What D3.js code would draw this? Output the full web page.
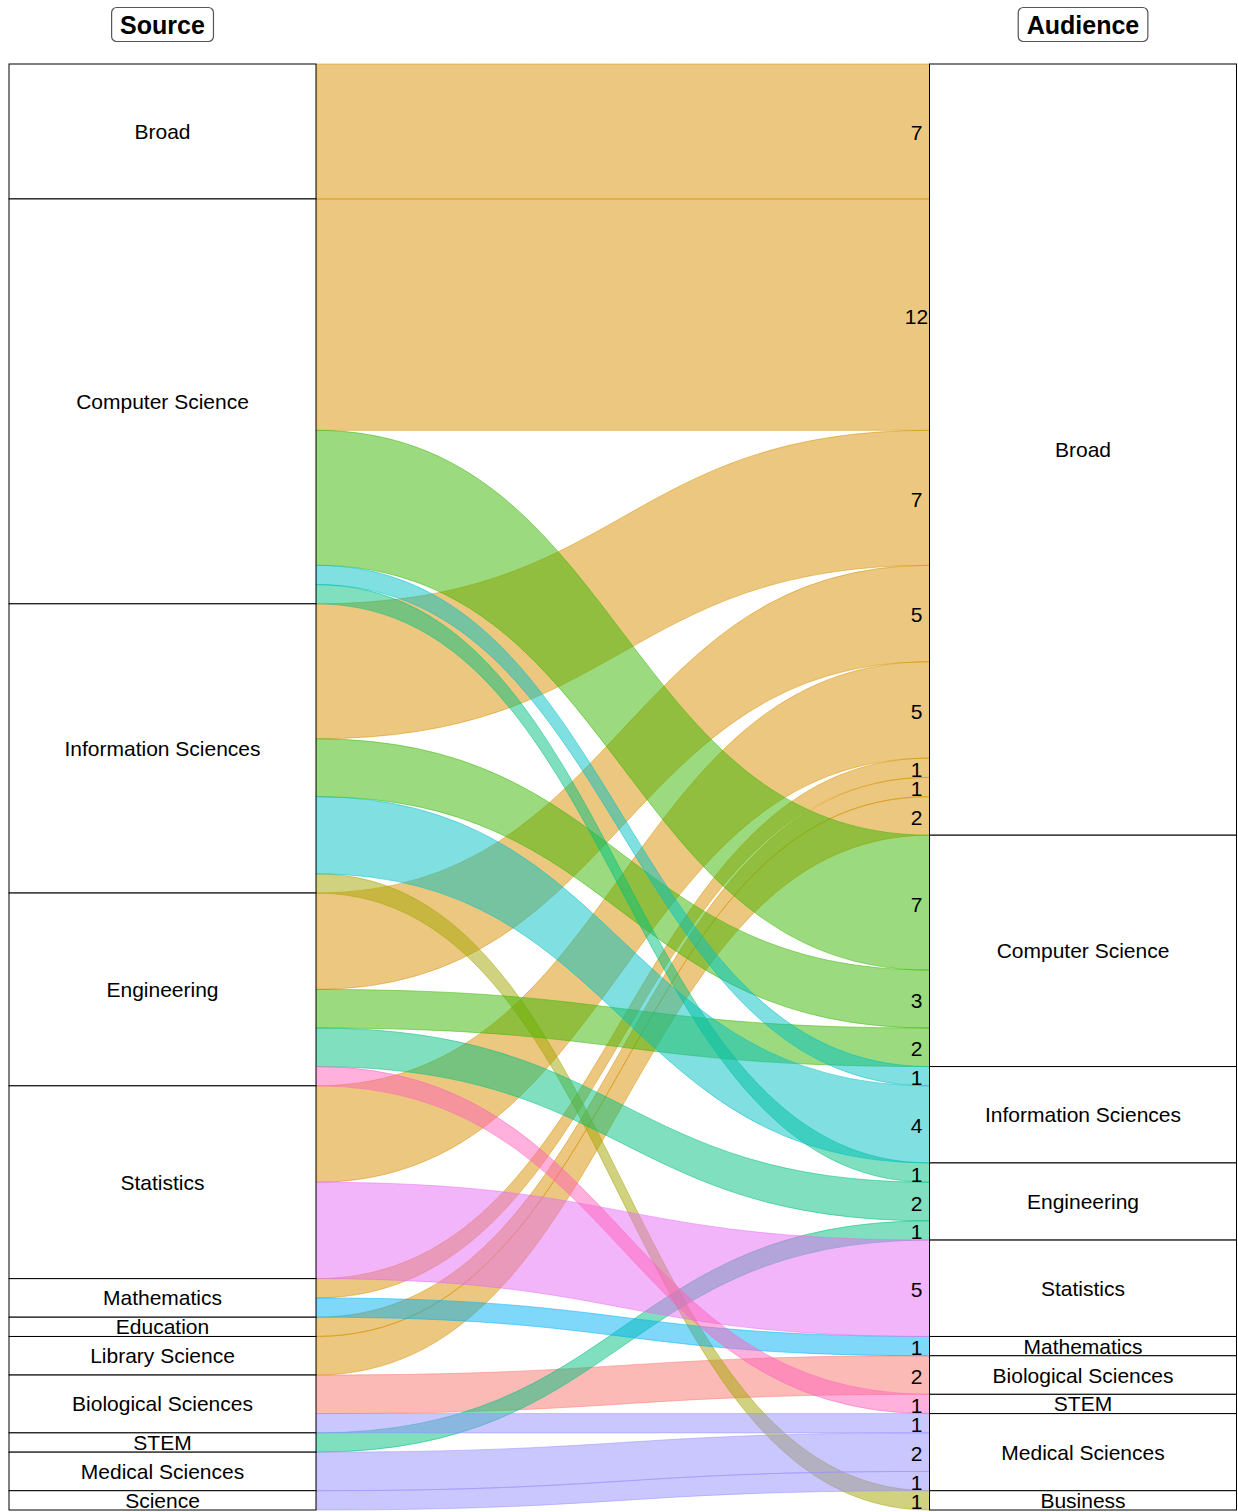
<!DOCTYPE html>
<html>
<head>
<meta charset="utf-8">
<script src="https://cdn.jsdelivr.net/npm/d3@7"></script>
<style>
  html, body { margin: 0; padding: 0; background: #fff; }
  svg { display: block; }
  text { font-family: "Liberation Sans", Arial, Helvetica, sans-serif; }
</style>
</head>
<body>
<svg id="chart" width="1238" height="1512"></svg>
<script>
// ---- Data ----
const sources = ["Broad", "Computer Science", "Information Sciences", "Engineering", "Statistics",
  "Mathematics", "Education", "Library Science", "Biological Sciences", "STEM", "Medical Sciences", "Science"];
const audiences = ["Broad", "Computer Science", "Information Sciences", "Engineering", "Statistics",
  "Mathematics", "Biological Sciences", "STEM", "Medical Sciences", "Business"];

const flowSource = ["Broad", "Computer Science", "Computer Science", "Computer Science", "Computer Science",
  "Information Sciences", "Information Sciences", "Information Sciences", "Information Sciences",
  "Engineering", "Engineering", "Engineering", "Engineering",
  "Statistics", "Statistics", "Mathematics", "Mathematics", "Education", "Library Science",
  "Biological Sciences", "Biological Sciences", "STEM", "Medical Sciences", "Science"];
const flowAudience = ["Broad", "Broad", "Computer Science", "Information Sciences", "Engineering",
  "Broad", "Computer Science", "Information Sciences", "Business",
  "Broad", "Computer Science", "Engineering", "STEM",
  "Broad", "Statistics", "Broad", "Mathematics", "Broad", "Broad",
  "Biological Sciences", "Medical Sciences", "Engineering", "Medical Sciences", "Medical Sciences"];
const flowCount = [7, 12, 7, 1, 1, 7, 3, 4, 1, 5, 2, 2, 1, 5, 5, 1, 1, 1, 2, 2, 1, 1, 2, 1];

const colorDomain = ["Biological Sciences", "Broad", "Business", "Computer Science", "Engineering",
  "Information Sciences", "Mathematics", "Medical Sciences", "Statistics", "STEM"];
const colorRange = ["#F8766D", "#D89000", "#A3A500", "#39B600", "#00BF7D",
  "#00BFC4", "#00B0F6", "#9590FF", "#E76BF3", "#FF62BC"];

const axisTitles = ["Source", "Audience"];

// ---- Layout ----
const svg = d3.select("#chart");
const total = d3.sum(flowCount);
const y = d3.scaleLinear().domain([0, total]).range([64, 1510]);
const x = d3.scalePoint().domain(axisTitles).range([162.5, 1083]);
const boxW = 307;
const color = d3.scaleOrdinal().domain(colorDomain).range(colorRange);

const flows = flowCount.map((c, i) => ({ s: flowSource[i], a: flowAudience[i], c, i }));

// stratum totals
const srcTot = sources.map(s => d3.sum(flows.filter(f => f.s === s), f => f.c));
const audTot = audiences.map(a => d3.sum(flows.filter(f => f.a === a), f => f.c));
const srcStart = d3.cumsum([0, ...srcTot]);
const audStart = d3.cumsum([0, ...audTot]);

// lode positions on the source side: ordered by audience
sources.forEach((s, si) => {
  let acc = srcStart[si];
  flows.filter(f => f.s === s)
    .sort((p, q) => audiences.indexOf(p.a) - audiences.indexOf(q.a))
    .forEach(f => { f.s0 = acc; acc += f.c; f.s1 = acc; });
});
// lode positions on the audience side: ordered by source
audiences.forEach((a, ai) => {
  let acc = audStart[ai];
  flows.filter(f => f.a === a)
    .sort((p, q) => sources.indexOf(p.s) - sources.indexOf(q.s))
    .forEach(f => { f.a0 = acc; acc += f.c; f.a1 = acc; });
});

const xL = x("Source") + boxW / 2;
const xR = x("Audience") - boxW / 2;
const xm = (xL + xR) / 2;

function flowPath(f) {
  const p = d3.path();
  p.moveTo(xL, y(f.s0));
  p.bezierCurveTo(xm, y(f.s0), xm, y(f.a0), xR, y(f.a0));
  p.lineTo(xR, y(f.a1));
  p.bezierCurveTo(xm, y(f.a1), xm, y(f.s1), xL, y(f.s1));
  p.closePath();
  return p.toString();
}

// draw order: by audience (alphabetical, locale), then by source
const drawOrder = flows.slice().sort((p, q) =>
  p.a.localeCompare(q.a, "en", { sensitivity: "base" }) || (sources.indexOf(p.s) - sources.indexOf(q.s)));

svg.append("g").selectAll("path")
  .data(drawOrder)
  .join("path")
  .attr("d", flowPath)
  .attr("fill", d => color(d.a))
  .attr("fill-opacity", 0.5)
  .attr("stroke", d => color(d.a))
  .attr("stroke-width", 0.5);

// strata
function drawStrata(names, starts, totals, axis) {
  const g = svg.append("g");
  names.forEach((n, i) => {
    const y0 = y(starts[i]), y1 = y(starts[i] + totals[i]);
    g.append("rect")
      .attr("x", x(axis) - boxW / 2).attr("y", y0)
      .attr("width", boxW).attr("height", y1 - y0)
      .attr("fill", "#fff").attr("stroke", "#000").attr("stroke-width", 1);
    g.append("text")
      .attr("x", x(axis)).attr("y", (y0 + y1) / 2)
      .attr("text-anchor", "middle").attr("dominant-baseline", "central")
      .attr("font-size", 21).attr("fill", "#000")
      .text(n);
  });
}
drawStrata(sources, srcStart, srcTot, "Source");
drawStrata(audiences, audStart, audTot, "Audience");

// count labels at the audience end of each flow
svg.append("g").selectAll("text")
  .data(flows)
  .join("text")
  .attr("x", xR - 13)
  .attr("y", d => y((d.a0 + d.a1) / 2) + 1.5)
  .attr("text-anchor", "middle").attr("dominant-baseline", "central")
  .attr("font-size", 21).attr("fill", "#000")
  .text(d => d.c);

// axis titles as boxed labels
axisTitles.forEach(t => {
  const g = svg.append("g");
  const txt = g.append("text")
    .attr("x", x(t)).attr("y", 24.5)
    .attr("text-anchor", "middle").attr("dominant-baseline", "central")
    .attr("font-size", 25).attr("font-weight", "bold").attr("fill", "#000")
    .text(t);
  const bb = txt.node().getBBox();
  g.insert("rect", "text")
    .attr("x", bb.x - 8.5).attr("y", 7.5)
    .attr("width", bb.width + 17).attr("height", 34)
    .attr("rx", 5).attr("ry", 5)
    .attr("fill", "#fff").attr("stroke", "#555").attr("stroke-width", 1.2);
});
</script>
</body>
</html>
